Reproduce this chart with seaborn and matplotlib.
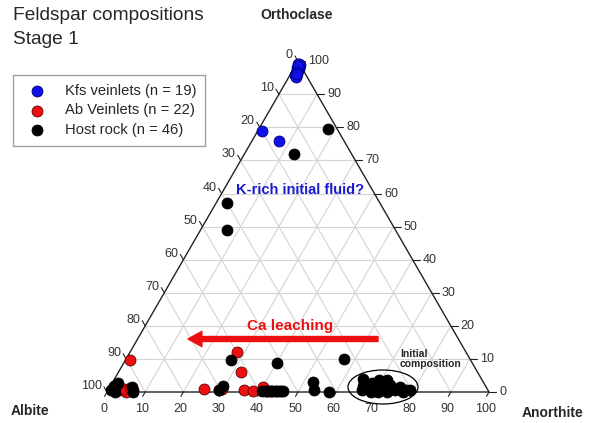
#!/usr/bin/env python3
"""
Ternary plot of feldspar compositions (Ab-An-Or), stage 1.
"""

import numpy as np
import pandas as pd
import matplotlib
matplotlib.use("Agg")
import matplotlib.pyplot as plt
from matplotlib.patches import Ellipse
import seaborn as sns

# compositions in mol% (An, Or); Ab = 100 - An - Or
kfs_an = [0.5, 1.0, 0.8, 1.2, 0.6, 1.5, 1.0, 0.9, 1.3, 1.1, 0.7, 1.6, 1.2, 1.8, 2.0, 1.4, 1.7, 1.0, 7.0]
kfs_or = [99.0, 98.8, 98.5, 98.2, 99.2, 97.5, 98.0, 97.8, 97.0, 96.5, 98.6, 96.0, 95.8, 95.5, 95.2, 96.8, 96.2, 79.0, 76.0]

ab_an = [1.3, 3.0, 5.0, 6.5, 2.0, 4.0, 25.0, 28.0, 32.0, 35.5, 38.0, 40.0,
         41.5, 42.5, 44.0, 1.0, 5.5, 29.5, 43.0, 45.5, 1.5, 29.0]
ab_or = [9.7, 0.5, 0.0, 0.5, 0.3, 1.0, 1.0, 12.0, 6.0, 0.5, 0.3, 1.5,
         0.3, 0.3, 0.3, 0.5, 1.2, 1.0, 0.3, 0.3, 2.0, 0.5]

host_an = [18.0, 13.0, 3.0, 7.0,
           0.8, 1.5, 2.0, 5.8, 6.8, 1.0,
           29.0, 29.5, 27.5, 40.0,
           40.5, 41.5, 42.0, 43.0, 44.0, 45.0, 46.0,
           52.5, 54.0, 58.0, 57.0,
           65.0, 68.0, 70.0, 66.5, 69.0, 71.0, 73.3, 75.2, 77.5, 79.0,
           67.0, 68.5, 70.5, 72.0, 74.0, 76.0, 78.0, 71.5, 73.0, 66.0, 69.5]
host_or = [79.5, 72.0, 57.0, 49.0,
           0.6, 2.7, 0.0, 1.5, 0.0, 1.8,
           0.6, 1.8, 9.7, 8.8,
           0.4, 0.3, 0.3, 0.3, 0.3, 0.3, 0.3,
           3.0, 0.6, 0.0, 10.0,
           4.0, 2.7, 3.0, 0.6, 0.0, 0.0, 0.0, 0.6, 0.0, 0.6,
           1.5, 1.0, 1.2, 2.5, 1.0, 1.5, 0.5, 3.5, 2.0, 1.8, 3.5]

groups = ["Kfs veinlets (n = 19)", "Ab Veinlets (n = 22)", "Host rock (n = 46)"]
colors = ["#1010e8", "#ee1010", "black"]
edges = ["#000080", "#600000", "black"]

ticks = list(range(0, 101, 10))

PX = 1 / 382.0  # one pixel in data units
H = np.sqrt(3) / 2


def to_xy(an, orr):
    an = np.asarray(an, float)
    orr = np.asarray(orr, float)
    return an / 100 + orr / 200, orr / 100 * H


sns.set_style("white")
plt.rcParams["font.family"] = ["Liberation Sans", "DejaVu Sans"]

fig = plt.figure(figsize=(5.93, 4.23), dpi=100)
ax = fig.add_axes([0, 0, 1, 1])
ax.axis("off")
ax.set_xlim(-107 * PX, (593 - 107) * PX)
ax.set_ylim(-31 * PX, (423 - 31) * PX)

# grid lines
gcol = "#d4d4d4"
for k in range(10, 100, 10):
    for p, q in [((0, k), (100 - k, k)), ((k, 0), (k, 100 - k)), ((100 - k, 0), (0, 100 - k))]:
        xs, ys = to_xy([p[0], q[0]], [p[1], q[1]])
        ax.plot(xs, ys, color=gcol, lw=0.8, zorder=1)

# triangle frame
fx, fy = to_xy([0, 100, 0, 0], [0, 0, 100, 0])
ax.plot(fx, fy, color="#222222", lw=1.0, zorder=2, clip_on=False)

# ticks and labels
tcol = "#222222"
for k in ticks:
    # bottom axis: Anorthite
    x, y = to_xy(k, 0)
    ax.plot([x, x - 0.5 * 5 * PX], [y, y - H * 5 * PX], color=tcol, lw=0.8)
    ax.text(x - 3 * PX, y - 17 * PX, str(k), ha="center", va="center", fontsize=9, color="#333333")
    # right axis: Orthoclase
    x, y = to_xy(100 - k, k)
    ax.plot([x, x + 7 * PX], [y, y], color=tcol, lw=0.8)
    ax.text(x + 10 * PX, y, str(k), ha="left", va="center", fontsize=9, color="#333333")
    # left axis: Albite
    x, y = to_xy(0, 100 - k)
    ax.plot([x, x - 0.5 * 6 * PX], [y, y + H * 6 * PX], color=tcol, lw=0.8)
    ax.text(x - 5 * PX, y + 6 * PX, str(k), ha="right", va="center", fontsize=9, color="#333333")

# data
frames = []
for name, an, orr in [(groups[0], kfs_an, kfs_or), (groups[1], ab_an, ab_or), (groups[2], host_an, host_or)]:
    x, y = to_xy(an, orr)
    frames.append(pd.DataFrame({"x": x, "y": y, "group": name}))
df = pd.concat(frames, ignore_index=True)

# draw order: Ab veinlets, host rock, Kfs veinlets
for i in [1, 2, 0]:
    sub = df[df["group"] == groups[i]]
    sns.scatterplot(data=sub, x="x", y="y", color=colors[i], edgecolor=edges[i], linewidth=0.6,
                    s=62, ax=ax, zorder=4, clip_on=False, label=groups[i])
ax.set_xlabel("")
ax.set_ylabel("")

handles, labels = ax.get_legend_handles_labels()
order = [labels.index(g) for g in groups]
leg = ax.legend([handles[i] for i in order], [labels[i] for i in order],
                loc="upper left", bbox_to_anchor=(13 / 593, 1 - 75 / 423),
                bbox_transform=fig.transFigure, fontsize=10.6, frameon=True,
                fancybox=False, edgecolor="#888888", borderpad=0.6,
                labelspacing=0.38, handletextpad=0.9, markerscale=1.0,
                borderaxespad=0)
leg.get_frame().set_linewidth(1.0)

# corner labels
ax.text(190 * PX, 377 * PX, "Orthoclase", ha="center", va="center",
        fontsize=10, fontweight="bold")
ax.text(-77 * PX, -19 * PX, "Albite", ha="center", va="center", fontsize=10, fontweight="bold")
ax.text(446 * PX, -21 * PX, "Anorthite", ha="center", va="center", fontsize=10, fontweight="bold")

# titles
fig.text(13 / 593, 1 - 15 / 423, "Feldspar compositions", ha="left", va="center", fontsize=13.8)
fig.text(13 / 593, 1 - 40 / 423, "Stage 1", ha="left", va="center", fontsize=13.8)

# annotations
ax.text(193 * PX, 202 * PX, "K-rich initial fluid?", ha="center", va="center",
        fontsize=10.5, fontweight="bold", color="#1a1ad0")
ax.text(183 * PX, 66 * PX, "Ca leaching", ha="center", va="center",
        fontsize=11, fontweight="bold", color="#ee1010")
ax.annotate("", xy=(81 * PX, 53 * PX), xytext=(271 * PX, 53 * PX),
            arrowprops=dict(color="#ee1010", width=3.6, headwidth=11, headlength=10, shrink=0))
ax.text(293 * PX, 33 * PX, "Initial\ncomposition", ha="left", va="center",
        fontsize=7.5, fontweight="bold", linespacing=1.1)
ax.add_patch(Ellipse((276 * PX, 5 * PX), 70 * PX, 34 * PX, fill=False, ec="black", lw=0.9, zorder=5))

plt.savefig("out.png", dpi=100)
plt.close()
